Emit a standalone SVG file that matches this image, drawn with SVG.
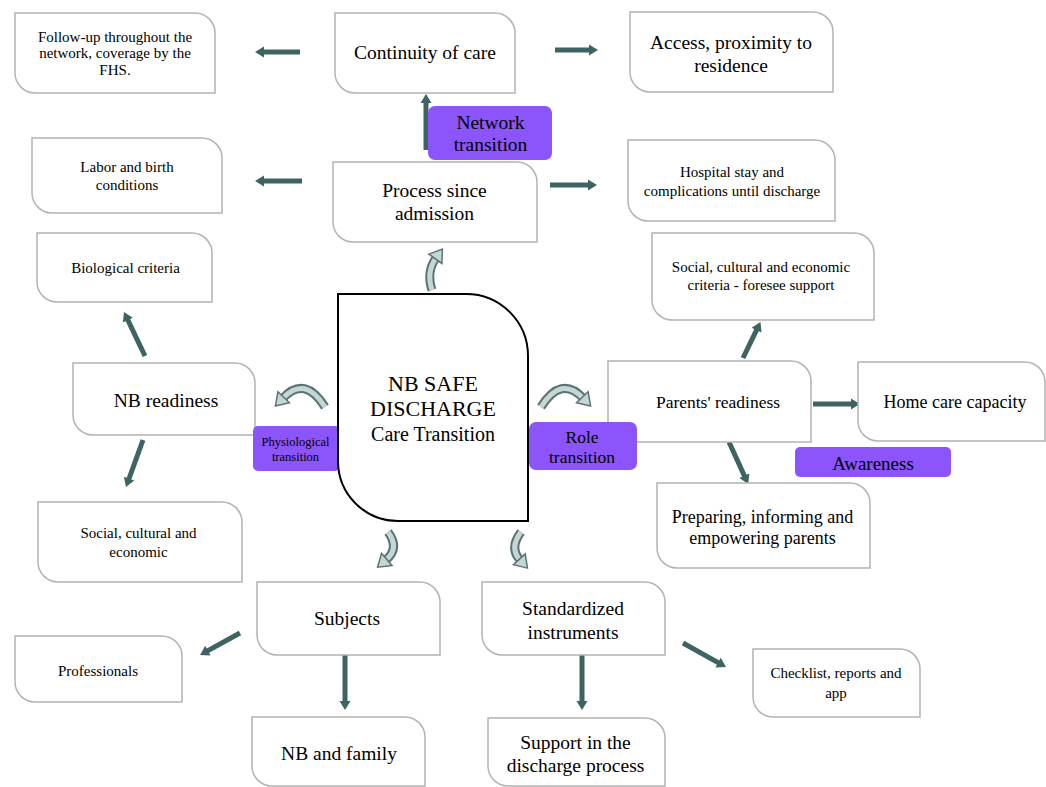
<svg xmlns="http://www.w3.org/2000/svg" width="1046" height="787" viewBox="0 0 1046 787">
<style>
  .box { fill: #ffffff; stroke: #b3b3b3; stroke-width: 1.5; }
  .center { fill: #ffffff; stroke: #000000; stroke-width: 2; }
  .tag { fill: #8c55fb; }
  .t { font-family: "Liberation Serif", "Times New Roman", Times, serif; fill: #000; text-anchor: middle; dominant-baseline: central; }
  .s { font-size: 15px; }
  .b { font-size: 19.5px; }
  .m { font-size: 18px; }
  .conn { stroke: #3d6363; stroke-width: 5; fill: none; marker-end: url(#head); }
  .cout { stroke: #5d7373; stroke-width: 9; fill: none; stroke-linecap: butt; }
  .cin { stroke: #c3d8d6; stroke-width: 5; fill: none; marker-end: url(#chead); }
</style>
<defs>
  <marker id="head" markerUnits="userSpaceOnUse" markerWidth="10" markerHeight="11" refX="1" refY="5.5" orient="auto" overflow="visible">
    <path d="M0,0 L9,5.5 L0,11 Z" fill="#3d6363"/>
  </marker>
  <marker id="chead" markerUnits="userSpaceOnUse" markerWidth="14" markerHeight="16" refX="1" refY="8" orient="auto" overflow="visible">
    <path d="M0,0 L12,8 L0,16 Z" fill="#c3d8d6" stroke="#5d7373" stroke-width="1.5"/>
  </marker>
</defs>
<rect width="1046" height="787" fill="#ffffff"/>

<g id="connectors">
  <line class="conn" x1="300" y1="52" x2="263" y2="52"/>
  <line class="conn" x1="555" y1="50" x2="590" y2="50"/>
  <line class="conn" x1="426" y1="150" x2="426" y2="102"/>
  <line class="conn" x1="302" y1="181" x2="263" y2="181"/>
  <line class="conn" x1="550" y1="185" x2="589" y2="185"/>
  <line class="conn" x1="145" y1="356" x2="127.4" y2="319.2"/>
  <line class="conn" x1="143" y1="440" x2="128.7" y2="479.5"/>
  <line class="conn" x1="743" y1="358" x2="757" y2="329.2"/>
  <line class="conn" x1="813" y1="404" x2="852" y2="404"/>
  <line class="conn" x1="729" y1="442" x2="744.8" y2="476.7"/>
  <line class="conn" x1="345" y1="655" x2="345" y2="702"/>
  <line class="conn" x1="582" y1="655" x2="582" y2="702"/>
  <line class="conn" x1="240" y1="633" x2="207" y2="651.1"/>
  <line class="conn" x1="683" y1="643" x2="719" y2="663.1"/>
  <path class="cout" d="M 325 407 Q 305 375 283 398"/>
  <path class="cin" d="M 325 407 Q 305 375 283 398"/>
  <path class="cout" d="M 541 407 Q 561 375 583 398"/>
  <path class="cin" d="M 541 407 Q 561 375 583 398"/>
  <path class="cout" d="M 432 290 Q 426 272 436 258"/>
  <path class="cin" d="M 432 290 Q 426 272 436 258"/>
  <path class="cout" d="M 388 532 Q 400 548 386 560"/>
  <path class="cin" d="M 388 532 Q 400 548 386 560"/>
  <path class="cout" d="M 521 532 Q 509 548 520 560"/>
  <path class="cin" d="M 521 532 Q 509 548 520 560"/>
</g>

<g id="followup">
  <path class="box" d="M15 13 H195 A20 20 0 0 1 215 33 V93 H35 A20 20 0 0 1 15 73 Z"/>
  <text class="t s" x="115" y="37">Follow-up throughout the</text>
  <text class="t s" x="115" y="53">network, coverage by the</text>
  <text class="t s" x="115" y="70">FHS.</text>
</g>
<g id="continuity">
  <path class="box" d="M335 13 H495 A20 20 0 0 1 515 33 V93 H355 A20 20 0 0 1 335 73 Z"/>
  <text class="t b" x="425" y="52">Continuity of care</text>
</g>
<g id="access">
  <path class="box" d="M630 12 H813 A20 20 0 0 1 833 32 V92 H650 A20 20 0 0 1 630 72 Z"/>
  <text class="t b" x="731" y="42">Access, proximity to</text>
  <text class="t b" x="731" y="65">residence</text>
</g>
<g id="labor">
  <path class="box" d="M32 138 H202 A20 20 0 0 1 222 158 V213 H52 A20 20 0 0 1 32 193 Z"/>
  <text class="t s" x="127" y="167">Labor and birth</text>
  <text class="t s" x="127" y="185">conditions</text>
</g>
<g id="process">
  <path class="box" d="M333 162 H517 A20 20 0 0 1 537 182 V242 H353 A20 20 0 0 1 333 222 Z"/>
  <text class="t b" x="434.5" y="190">Process since</text>
  <text class="t b" x="434.5" y="213">admission</text>
</g>
<g id="hospital">
  <path class="box" d="M628 140 H815 A20 20 0 0 1 835 160 V221 H648 A20 20 0 0 1 628 201 Z"/>
  <text class="t s" x="732" y="172">Hospital stay and</text>
  <text class="t s" x="732" y="191">complications until discharge</text>
</g>
<g id="biological">
  <path class="box" d="M37 233 H192 A20 20 0 0 1 212 253 V302 H57 A20 20 0 0 1 37 282 Z"/>
  <text class="t s" x="125.5" y="268">Biological criteria</text>
</g>
<g id="socialcriteria">
  <path class="box" d="M652 233 H854 A20 20 0 0 1 874 253 V320 H672 A20 20 0 0 1 652 300 Z"/>
  <text class="t s" x="761" y="267">Social, cultural and economic</text>
  <text class="t s" x="761" y="285">criteria - foresee support</text>
</g>
<g id="nbreadiness">
  <path class="box" d="M73 363 H235 A20 20 0 0 1 255 383 V435 H93 A20 20 0 0 1 73 415 Z"/>
  <text class="t b" x="166" y="400">NB readiness</text>
</g>
<g id="parents">
  <path class="box" d="M608 361 H791 A20 20 0 0 1 811 381 V442 H628 A20 20 0 0 1 608 422 Z"/>
  <text class="t m" x="718" y="402" style="font-size:17.5px">Parents' readiness</text>
</g>
<g id="homecare">
  <path class="box" d="M858 362 H1025 A20 20 0 0 1 1045 382 V441 H878 A20 20 0 0 1 858 421 Z"/>
  <text class="t m" x="955" y="402">Home care capacity</text>
</g>
<g id="socialecon">
  <path class="box" d="M38 502 H222 A20 20 0 0 1 242 522 V582 H58 A20 20 0 0 1 38 562 Z"/>
  <text class="t s" x="138.5" y="533">Social, cultural and</text>
  <text class="t s" x="138.5" y="552">economic</text>
</g>
<g id="preparing">
  <path class="box" d="M657 483 H850 A20 20 0 0 1 870 503 V568 H677 A20 20 0 0 1 657 548 Z"/>
  <text class="t m" x="762.5" y="517">Preparing, informing and</text>
  <text class="t m" x="762.5" y="538">empowering parents</text>
</g>
<g id="subjects">
  <path class="box" d="M257 582 H420 A20 20 0 0 1 440 602 V655 H277 A20 20 0 0 1 257 635 Z"/>
  <text class="t b" x="347" y="618">Subjects</text>
</g>
<g id="standardized">
  <path class="box" d="M482 582 H645 A20 20 0 0 1 665 602 V655 H502 A20 20 0 0 1 482 635 Z"/>
  <text class="t b" x="573" y="608">Standardized</text>
  <text class="t b" x="573" y="632">instruments</text>
</g>
<g id="professionals">
  <path class="box" d="M15 636 H162 A20 20 0 0 1 182 656 V702 H35 A20 20 0 0 1 15 682 Z"/>
  <text class="t s" x="98" y="671">Professionals</text>
</g>
<g id="checklist">
  <path class="box" d="M753 649 H900 A20 20 0 0 1 920 669 V717 H773 A20 20 0 0 1 753 697 Z"/>
  <text class="t s" x="836" y="673">Checklist, reports and</text>
  <text class="t s" x="836" y="693">app</text>
</g>
<g id="nbfamily">
  <path class="box" d="M252 717 H405 A20 20 0 0 1 425 737 V786 H272 A20 20 0 0 1 252 766 Z"/>
  <text class="t b" x="339" y="753">NB and family</text>
</g>
<g id="support">
  <path class="box" d="M488 718 H645 A20 20 0 0 1 665 738 V786 H508 A20 20 0 0 1 488 766 Z"/>
  <text class="t b" x="575.5" y="742">Support in the</text>
  <text class="t b" x="575.5" y="765">discharge process</text>
</g>

<g id="label-network">
  <rect class="tag" x="428" y="106" width="124" height="54" rx="7"/>
  <text class="t b" x="490.5" y="122">Network</text>
  <text class="t b" x="490.5" y="144">transition</text>
</g>
<g id="label-physiological">
  <rect class="tag" x="253" y="426" width="87" height="45" rx="5"/>
  <text class="t" x="295.5" y="442" style="font-size:12.5px">Physiological</text>
  <text class="t" x="295.5" y="457" style="font-size:12.5px">transition</text>
</g>
<g id="center">
  <path class="center" d="M338 294 H466 A62 62 0 0 1 528 356 V521 H398 A60 60 0 0 1 338 461 Z"/>
  <text class="t" x="433" y="383" style="font-size:22px">NB SAFE</text>
  <text class="t" x="433" y="408" style="font-size:22px">DISCHARGE</text>
  <text class="t" x="433" y="434" style="font-size:20px">Care Transition</text>
</g>
<g id="label-role">
  <rect class="tag" x="529" y="422" width="108" height="48" rx="7"/>
  <text class="t" x="582" y="437" style="font-size:17.5px">Role</text>
  <text class="t" x="582" y="457" style="font-size:17.5px">transition</text>
</g>
<g id="label-awareness">
  <rect class="tag" x="795" y="447" width="156" height="30" rx="5"/>
  <text class="t" x="873" y="463" style="font-size:19px">Awareness</text>
</g>
</svg>
